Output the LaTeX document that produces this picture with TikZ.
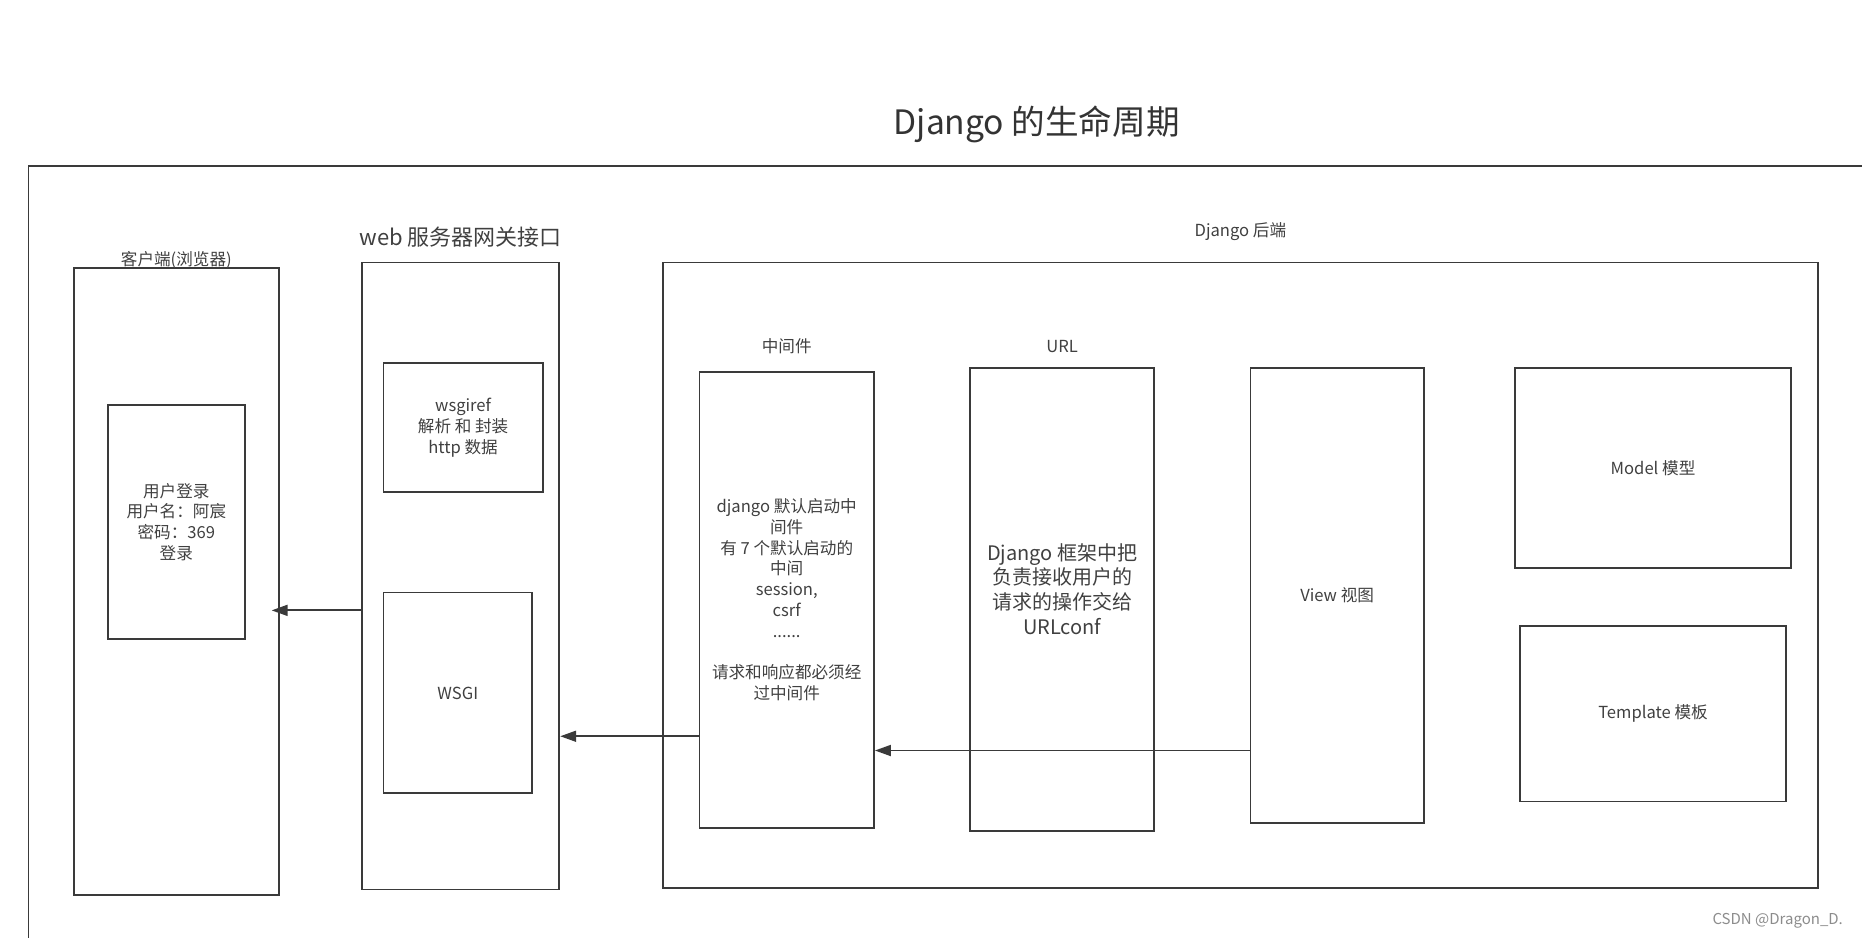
\documentclass[tikz,border=0pt]{standalone}
\usepackage{fontspec}
\setmainfont{Noto Sans CJK SC}
\usepackage{tikz}
\usetikzlibrary{positioning,arrows.meta}
\definecolor{linegray}{HTML}{3A3A3A}
\definecolor{textgray}{HTML}{404040}
\newcommand{\unit}{0.59375pt}
\tikzset{
  box/.style  = {draw=linegray, line width=0.9pt, rectangle, inner sep=2pt,
                 align=center, text=textgray, font=\fontsize{8.3}{10.4}\selectfont},
  big/.style  = {box, font=\fontsize{10}{12.3}\selectfont},
  sz/.style 2 args = {minimum width=#1*\unit, minimum height=#2*\unit},
  lab/.style  = {text=textgray, inner sep=0pt, font=\fontsize{8.3}{10}\selectfont},
  post/.style = {-{Triangle[length=8pt,width=5.5pt]}, draw=linegray, line width=0.9pt},
  frame/.style = {draw=linegray, line width=0.9pt}
}

\begin{document}
\begin{tikzpicture}[x=0.59375pt, y=-0.59375pt]
  \useasboundingbox (0,0) rectangle (1568,790);
  \node[text=black!80, font=\fontsize{16.8}{20}\selectfont] (title) at (873,105) {Django 的生命周期};
  \draw[frame] (1568,140) -- (24,140) -- (24,790);

  % client side
  \node[box, sz={173}{528}] (client) at (148.5,490) {};
  \node[lab, above=-1pt of client] (clientlab) {客户端(浏览器)};
  \node[box, sz={115}{197}] (login) at (148.5,439.5) {用户登录\\用户名：阿宸\\密码：369\\登录};

  % web server gateway
  \node[box, sz={166}{528}] (web) at (388,485) {};
  \node[lab, above=7pt of web, font=\fontsize{11}{13}\selectfont] (weblab) {web 服务器网关接口};
  \node[box, sz={134}{108}] (wsgiref) at (390,360) {wsgiref\\解析 和 封装\\http 数据};
  \node[box, sz={125}{169}] (wsgi) at (385.5,583.5) {WSGI};

  % django backend
  \node[box, sz={973}{527}] (backend) at (1044.5,484.5) {};
  \node[lab, above=10pt of backend] (backendlab) {Django 后端};
  \node[box, sz={147}{384}] (mw) at (662.5,505)
    {django 默认启动中\\间件\\有 7 个默认启动的\\中间\\session,\\csrf\\......\\[10.4pt]请求和响应都必须经\\过中间件};
  \node[lab, above=8.5pt of mw] (mwlab) {中间件};
  \node[big, sz={155}{390}] (url) at (894.5,505) {};
  \node[big, draw=none] (urltext) at (894.5,496) {Django 框架中把\\负责接收用户的\\请求的操作交给\\URLconf};
  \node[lab, above=7pt of url] (urllab) {URL};
  \node[box, sz={146}{383}] (view) at (1126,501.5) {View 视图};
  \node[box, sz={232}{168}] (model) at (1392,394) {Model 模型};
  \node[box, sz={224}{148}] (tmpl) at (1392,601) {Template 模板};

  % response flow
  \coordinate (r1) at (0,514);
  \coordinate (r2) at (0,620);
  \coordinate (r3) at (0,632);
  \draw[post] (web.west |- r1) -- ([xshift=-7*\unit]client.east |- r1);
  \draw[post] (mw.west |- r2) -- (web.east |- r2);
  \draw[post] (view.west |- r3) -- (mw.east |- r3);

  \node[text=black!45, inner sep=0pt, font=\fontsize{7.5}{9}\selectfont] (mark) at (1497,775) {CSDN @Dragon\_D.};
\end{tikzpicture}
\end{document}
